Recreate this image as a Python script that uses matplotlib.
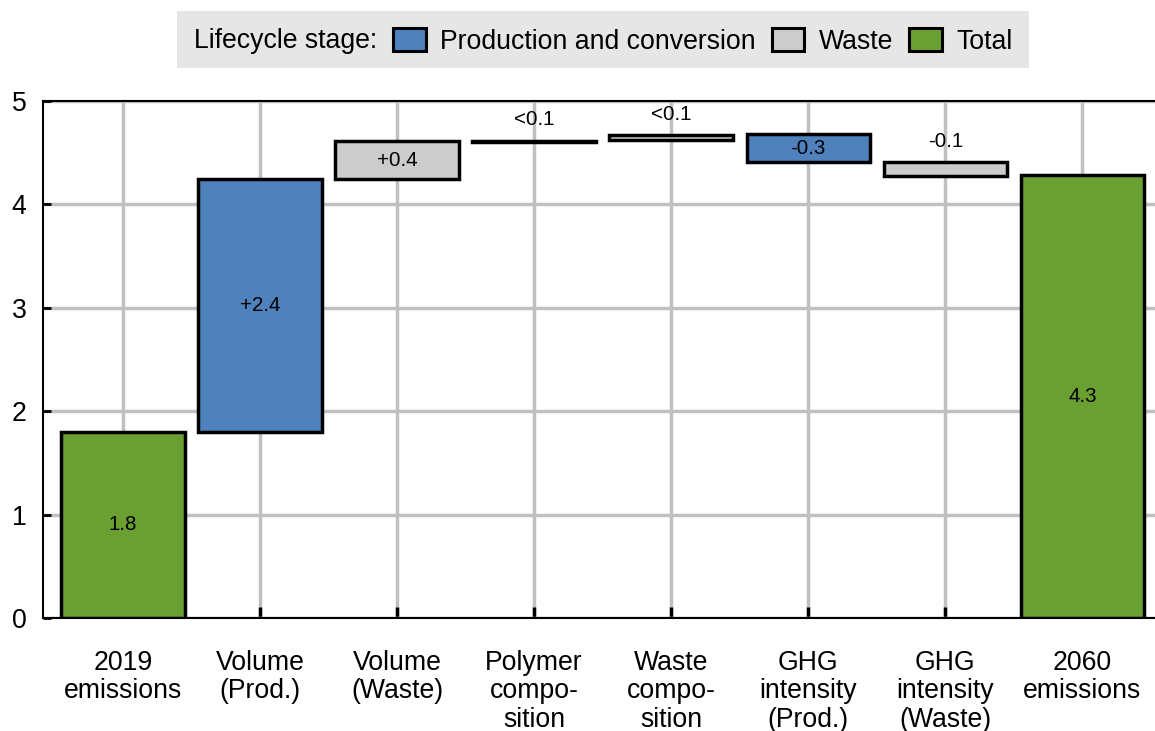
import matplotlib
matplotlib.use("Agg")
import matplotlib.pyplot as plt
from matplotlib.patches import Patch, Rectangle
import numpy as np

plt.rcParams['font.family'] = ['Liberation Sans', 'DejaVu Sans']

categories = ["2019\nemissions", "Volume\n(Prod.)", "Volume\n(Waste)", "Polymer\ncompo-\nsition",
              "Waste\ncompo-\nsition", "GHG\nintensity\n(Prod.)", "GHG\nintensity\n(Waste)", "2060\nemissions"]
bottoms = [0.0, 1.80, 4.245, 4.605, 4.62, 4.41, 4.27, 0.0]
tops = [1.80, 4.245, 4.61, 4.615, 4.67, 4.68, 4.41, 4.28]
stages = ["Total", "Production and conversion", "Waste", "Production and conversion",
          "Waste", "Production and conversion", "Waste", "Total"]
labels = ["1.8", "+2.4", "+0.4", "<0.1", "<0.1", "-0.3", "-0.1", "4.3"]
label_inside = [True, True, True, False, False, True, False, True]

colors = {"Production and conversion": "#4f81bd", "Waste": "#cccccc", "Total": "#6a9f31"}
legend_order = ["Production and conversion", "Waste", "Total"]

W, H = 1155, 731
fig = plt.figure(figsize=(W / 100, H / 100), dpi=100)
ax = fig.add_axes([43 / W, 1 - 618 / H, 1 - 43 / W, (618 - 101) / H])

x = np.arange(len(categories))
heights = np.array(tops) - np.array(bottoms)
ax.bar(x, heights, bottom=bottoms, width=0.9,
       color=[colors[s] for s in stages], edgecolor="black", linewidth=2.5, zorder=3)

for xi, b, t, lab, ins in zip(x, bottoms, tops, labels, label_inside):
    if ins:
        ax.text(xi, (b + t) / 2, lab, ha="center", va="center", fontsize=14.8, zorder=4)
    else:
        ax.text(xi, t + 0.11, lab, ha="center", va="bottom", fontsize=14.8, zorder=4)

ax.set_xlim(-0.583, 7.53)
ax.set_ylim(0, 5)
ax.set_yticks([0, 1, 2, 3, 4, 5])
ax.set_xticks(x)
ax.set_xticklabels(categories, fontsize=19.2, linespacing=1.12)
ax.tick_params(axis="y", labelsize=19.2, direction="in", length=6, width=2, pad=12)
ax.tick_params(axis="x", direction="in", length=8, width=2.5, pad=23)

ax.grid(True, color="#c0c0c0", linewidth=2.5, zorder=0)
ax.set_axisbelow(True)
for s in ["left", "bottom", "top"]:
    ax.spines[s].set_linewidth(1.5)
    ax.spines[s].set_color("black")
ax.spines["right"].set_visible(False)

# Legend background, title and entries
fig.patches.append(Rectangle((177 / W, 1 - 68 / H), (1029 - 177) / W, 57 / H,
                             transform=fig.transFigure, facecolor="#e6e6e6",
                             edgecolor="none", zorder=0))
fig.text(194 / W, 1 - 38 / H, "Lifecycle stage:", fontsize=19.2, ha="left", va="center_baseline")
handles = [Patch(facecolor=colors[k], edgecolor="black", linewidth=2.2) for k in legend_order]
leg = fig.legend(handles, legend_order, loc="center left", bbox_to_anchor=(393 / W, 1 - 41.5 / H),
                 ncol=3, fontsize=19.2, frameon=False, handlelength=1.22, handleheight=0.9,
                 handletextpad=0.55, columnspacing=0.6, borderpad=0, borderaxespad=0)

fig.savefig("out.png", dpi=100)
